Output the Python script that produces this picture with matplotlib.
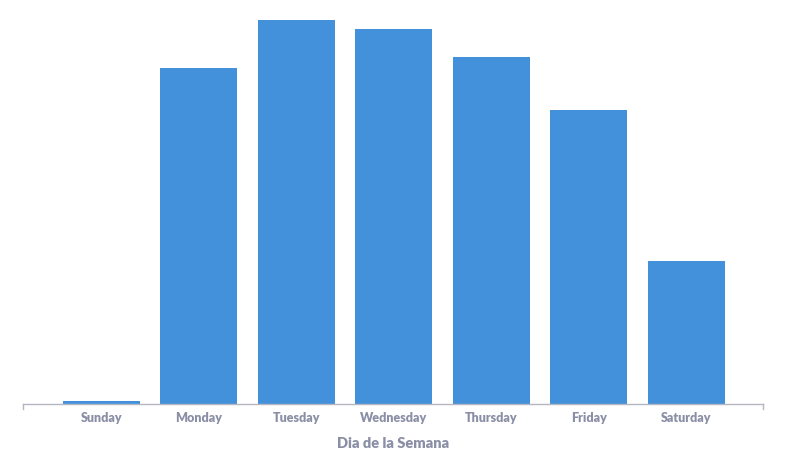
import matplotlib
matplotlib.use("Agg")
import matplotlib.pyplot as plt

days = ["Sunday", "Monday", "Tuesday", "Wednesday", "Thursday", "Friday", "Saturday"]
counts = [3.5, 336, 384, 375, 347, 294, 143]
xlabel = "Dia de la Semana"

bar_color = "#4391db"
text_color = "#8a8fa6"
axis_color = "#b4b6c4"

plt.rcParams['font.family'] = ['Lato', 'DejaVu Sans']

fig = plt.figure(figsize=(7.87, 4.55), dpi=100)
ax = fig.add_axes([23/787, 51/455, 740/787, 404/455])

x = list(range(len(days)))
ax.bar(x, counts, width=0.79, color=bar_color, zorder=2)

ax.set_xlim(-0.806, 6.79)
ax.set_ylim(0, 404)

for s in ["top", "right", "left"]:
    ax.spines[s].set_visible(False)
ax.spines["bottom"].set_color(axis_color)
ax.spines["bottom"].set_linewidth(1.0)

ax.set_yticks([])
ax.set_xticks(x)
ax.set_xticklabels(days, fontsize=9, fontweight=800, color=text_color)
ax.tick_params(axis='x', length=0, pad=6)

for xv in ax.get_xlim():
    ax.plot([xv, xv], [0, -5], color=axis_color, lw=1.0, clip_on=False,
            transform=ax.transData)

ax.set_xlabel(xlabel, fontsize=10.5, fontweight=800, color=text_color, labelpad=9)

fig.savefig("out.png", dpi=100)
